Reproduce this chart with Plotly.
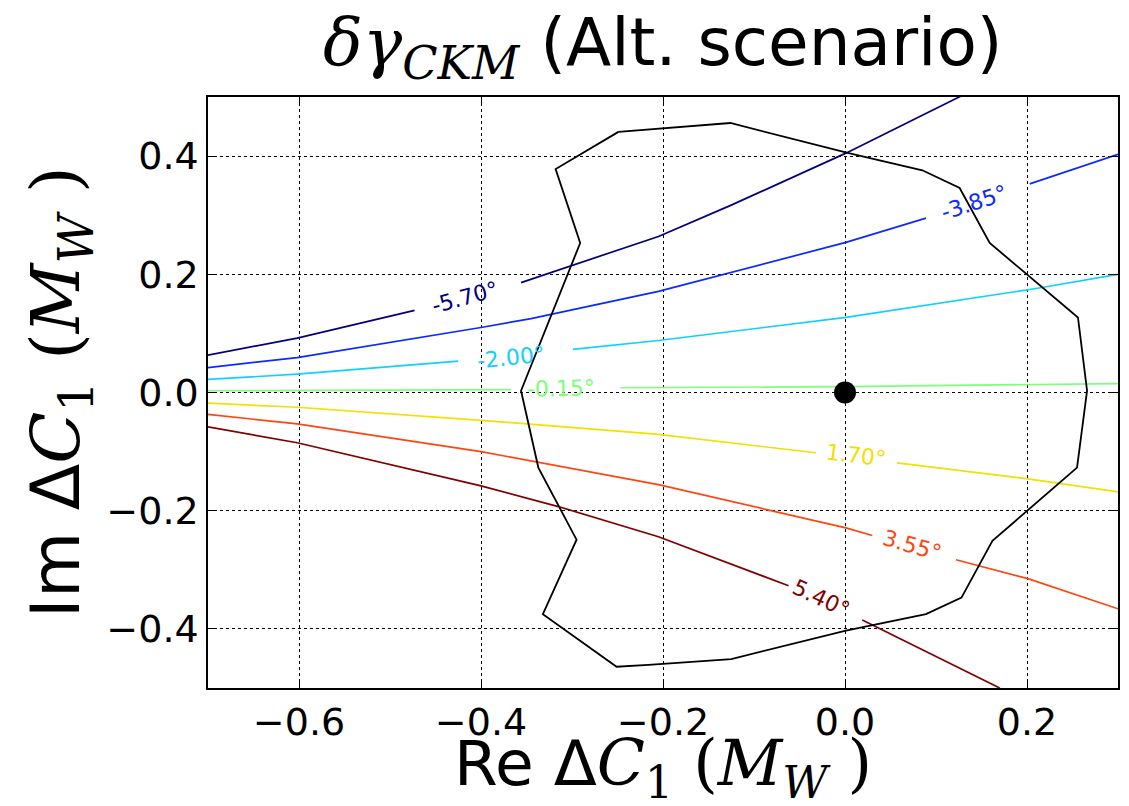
import plotly.graph_objects as go

# ---- data ----
levels = ["-5.70°", "-3.85°", "-2.00°", "-0.15°", "1.70°", "3.55°", "5.40°"]
colors = ["#00007f", "#0a2aff", "#10d0ff", "#7dff7a", "#f2e000", "#ff4510", "#800000"]

# contour lines (None = gap where the inline label sits)
l1_x = [-0.701, -0.602, -0.473, None, -0.356, -0.205, -0.125, 0.001, 0.128]
l1_y = [0.063, 0.092, 0.139, None, 0.186, 0.264, 0.317, 0.405, 0.502]
l2_x = [-0.701, -0.602, -0.400, -0.345, -0.205, 0.001, 0.089, None, 0.203, 0.300]
l2_y = [0.042, 0.059, 0.110, 0.125, 0.171, 0.254, 0.295, None, 0.353, 0.403]
l3_x = [-0.701, -0.602, -0.425, None, -0.299, -0.205, 0.001, 0.210, 0.300]
l3_y = [0.022, 0.031, 0.053, None, 0.073, 0.088, 0.127, 0.176, 0.200]
l4_x = [-0.701, -0.367, None, -0.247, 0.000, 0.300]
l4_y = [0.003, 0.005, None, 0.008, 0.010, 0.015]
l5_x = [-0.701, -0.602, -0.400, -0.205, -0.032, None, 0.057, 0.201, 0.300]
l5_y = [-0.018, -0.025, -0.047, -0.071, -0.102, None, -0.119, -0.146, -0.168]
l6_x = [-0.701, -0.602, -0.400, -0.205, 0.001, 0.030, None, 0.122, 0.201, 0.300]
l6_y = [-0.037, -0.053, -0.100, -0.156, -0.229, -0.242, None, -0.283, -0.315, -0.366]
l7_x = [-0.701, -0.602, -0.400, -0.315, -0.205, -0.062, None, 0.019, 0.170]
l7_y = [-0.058, -0.085, -0.158, -0.193, -0.244, -0.327, None, -0.385, -0.500]
lines_x = [l1_x, l2_x, l3_x, l4_x, l5_x, l6_x, l7_x]
lines_y = [l1_y, l2_y, l3_y, l4_y, l5_y, l6_y, l7_y]

# inline label positions and rotation
lab_x = [-0.418, 0.142, -0.367, -0.312, 0.012, 0.074, -0.026]
lab_y = [0.161, 0.322, 0.059, 0.006, -0.107, -0.259, -0.349]
lab_angle = [-15, -18, -6, -1, 7, 16, 25]

# allowed-region contour (closed)
reg_x = [-0.249, -0.205, -0.126, 0.004, 0.085, 0.126, 0.159, 0.256, 0.266, 0.255,
         0.162, 0.128, 0.089, 0.001, -0.125, -0.216, -0.251, -0.332, -0.295,
         -0.337, -0.356, -0.291, -0.318, -0.249]
reg_y = [0.441, 0.446, 0.456, 0.405, 0.376, 0.346, 0.253, 0.127, 0.003, -0.127,
         -0.251, -0.347, -0.375, -0.403, -0.451, -0.461, -0.464, -0.375, -0.249,
         -0.127, 0.003, 0.253, 0.378, 0.441]

sm_x = [0.0]
sm_y = [0.0]

x_ticks = [-0.6, -0.4, -0.2, 0.0, 0.2]
x_ticklabels = ["−0.6", "−0.4", "−0.2", "0.0", "0.2"]
y_ticks = [-0.4, -0.2, 0.0, 0.2, 0.4]
y_ticklabels = ["−0.4", "−0.2", "0.0", "0.2", "0.4"]

fig = go.Figure()
for lx, ly, c in zip(lines_x, lines_y, colors):
    fig.add_trace(go.Scatter(x=lx, y=ly, mode="lines", line=dict(color=c, width=1.7),
                             hoverinfo="skip", showlegend=False))
fig.add_trace(go.Scatter(x=reg_x, y=reg_y, mode="lines", line=dict(color="black", width=1.8),
                         showlegend=False))
fig.add_trace(go.Scatter(x=sm_x, y=sm_y, mode="markers",
                         marker=dict(color="black", size=22), showlegend=False))

for t, x, y, a, c in zip(levels, lab_x, lab_y, lab_angle, colors):
    fig.add_annotation(x=x, y=y, text=t, textangle=a, showarrow=False,
                       font=dict(family="DejaVu Sans", size=22, color=c))

serif = "font-family:'DejaVu Serif'"

# title
fig.add_annotation(
    xref="paper", yref="paper", x=0.5, y=1.0, yshift=5, xanchor="center", yanchor="bottom",
    showarrow=False,
    text=(f"<span style=\"{serif}\"><i>δγ</i><sub><i>CKM</i></sub></span> (Alt. scenario)"),
    font=dict(family="DejaVu Sans", size=66, color="black"))

xtitle = (f"Re Δ<span style=\"{serif}\"><i>C</i><sub>1</sub> (<i>M</i><sub><i>W</i></sub> )</span>")
ytitle = (f"Im Δ<span style=\"{serif}\"><i>C</i><sub>1</sub> (<i>M</i><sub><i>W</i></sub> )</span>")

fig.add_annotation(xref="paper", yref="paper", x=0.5, y=-0.135, xanchor="center",
                   yanchor="middle", showarrow=False, text=xtitle,
                   font=dict(family="DejaVu Sans", size=63, color="black"))
fig.add_annotation(xref="paper", yref="paper", x=-0.163, y=0.5, xanchor="center",
                   yanchor="middle", textangle=-90, showarrow=False, text=ytitle,
                   font=dict(family="DejaVu Sans", size=68, color="black"))

axis_common = dict(showgrid=True, gridcolor="black", griddash="dot", gridwidth=1,
                   showline=True, linecolor="black", linewidth=1.5, mirror="ticks",
                   ticks="inside", ticklen=8, tickcolor="black", zeroline=False,
                   automargin=False,
                   tickfont=dict(family="DejaVu Sans", size=38, color="black"))

fig.update_xaxes(range=[-0.7, 0.3], tickvals=x_ticks, ticktext=x_ticklabels, **axis_common)
fig.update_yaxes(range=[-0.5, 0.5], tickvals=y_ticks, ticktext=y_ticklabels, **axis_common)

# the page body adds an 8px offset, so the figure is sized 8px smaller on each axis
fig.update_layout(width=1121, height=798, plot_bgcolor="white", paper_bgcolor="white",
                  margin=dict(l=200, r=11, t=89, b=118), showlegend=False)

fig.write_html("out.html")
